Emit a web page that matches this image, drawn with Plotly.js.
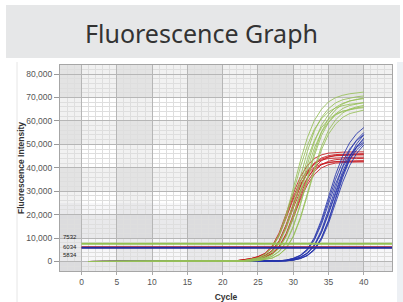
<!DOCTYPE html>
<html>
<head>
<meta charset="utf-8">
<script src="https://cdn.plot.ly/plotly-3.0.1.min.js"></script>
<style>
html,body{margin:0;padding:0;background:#fff;}
#chart{width:403px;height:302px;}
</style>
</head>
<body>
<div id="chart"></div>
<script>
// ---- Data ----
const cycles = [1,2,3,4,5,6,7,8,9,10,11,12,13,14,15,16,17,18,19,20,21,22,23,24,25,26,27,28,29,30,31,32,33,34,35,36,37,38,39,40];

// Green target curves
const green1 = [0,0,0,0,0,0,0,0,0,0,0,0,0,0,0,0,0,0,0, 70,110,220,430,860,1580,3170,6120,11590,20090,31180,42770,52780,60190,64940,68110,69910,70920,71570,72000,72290];
const green2 = [0,0,0,0,0,0,0,0,0,0,0,0,0,0,0,0,0,0,0, 50,85,140,320,640,1200,2260,4370,8320,15160,24820,36310,46880,55700,61480,65210,67680,69020,69800,70290,70640];
const green3 = [0,0,0,0,0,0,0,0,0,0,0,0,0,0,0,0,0,0,0,0, 70,100,210,420,830,1530,3060,5910,11190,19390,30090,41280,50940,58100,62690,65750,67490,68460,69080,69500];
const green4 = [0,0,0,0,0,0,0,0,0,0,0,0,0,0,0,0,0,0,0, 70,100,200,410,810,1490,2970,5740,10870,18830,29230,40100,49480,56430,60890,63860,65540,66490,67100,67500,67770];
const green5 = [0,0,0,0,0,0,0,0,0,0,0,0,0,0,0,0,0,0,0,0, 50,80,140,310,610,1160,2180,4220,8020,14620,23940,35020,45220,53720,59300,62900,65280,66570,67320,67800];
const green6 = [0,0,0,0,0,0,0,0,0,0,0,0,0,0,0,0,0,0,0,0, 70,100,200,400,790,1450,2900,5610,10630,18410,28580,39200,48380,55180,59530,62440,64090,65010,65600,66000];
const green7 = [0,0,0,0,0,0,0,0,0,0,0,0,0,0,0,0,0,0,0,0,0, 70,100,200,400,800,1470,2950,5700,10790,18690,29010,39800,49110,56010,60430,63380,65060,66000,66600];
const green8 = [0,0,0,0,0,0,0,0,0,0,0,0,0,0,0,0,0,0,0, 50,80,130,300,590,1110,2100,4060,7730,14080,23060,33730,43560,51750,57120,60590,62880,64130,64850,65300,65630];
const green9 = [0,0,0,0,0,0,0,0,0,0,0,0,0,0,0,0,0,0,0,0,0, 70,100,200,390,780,1430,2860,5530,10470,18140,28150,38610,47650,54340,58630,61490,63120,64030,64610];
const green10 = [0,0,0,0,0,0,0,0,0,0,0,0,0,0,0,0,0,0,0,0, 50,80,140,320,630,1190,2240,4340,8260,15050,24640,36050,46550,55300,61040,64750,67200,68530,69300,69790];

// Red target curves
const red1 = [0,0,0,0,0,0,0,0,0,0,0,0,0,0,0,0,0,0,0, 90,210,370,700,1260,2110,3510,6550,12170,20360,29020,36040,40950,43990,45490,46240,46520,46660,46730,46780,46800];
const red2 = [0,0,0,0,0,0,0,0,0,0,0,0,0,0,0,0,0,0,0, 50,140,270,500,910,1590,2500,4550,8650,15470,24120,31850,37770,41630,43680,44680,45140,45320,45410,45450,45500];
const red3 = [0,0,0,0,0,0,0,0,0,0,0,0,0,0,0,0,0,0,0,0, 90,200,350,660,1190,1980,3300,6160,11440,19140,27280,33880,38500,41360,42770,43470,43740,43870,43930,43980];
const red4 = [0,0,0,0,0,0,0,0,0,0,0,0,0,0,0,0,0,0,0, 40,130,260,470,860,1510,2370,4300,8170,14620,22790,30100,35690,39350,41280,42230,42660,42830,42910,42960,43000];
const red5 = [0,0,0,0,0,0,0,0,0,0,0,0,0,0,0,0,0,0,0, 90,200,360,670,1200,2000,3340,6230,11570,19360,27590,34270,38940,41830,43250,43970,44230,44370,44430,44480,44500];
const red6 = [0,0,0,0,0,0,0,0,0,0,0,0,0,0,0,0,0,0,0,0, 90,190,340,640,1150,1910,3190,5950,11050,18490,26350,32730,37190,39950,41310,41990,42250,42370,42440,42480];
const red7 = [0,0,0,0,0,0,0,0,0,0,0,0,0,0,0,0,0,0,0, 50,140,280,510,920,1610,2530,4600,8740,15640,24380,32200,38180,42090,44160,45170,45630,45820,45910,45950,46000];
const red8 = [0,0,0,0,0,0,0,0,0,0,0,0,0,0,0,0,0,0,0, 90,190,340,640,1160,1930,3210,5990,11130,18620,26540,32960,37450,40230,41600,42290,42540,42670,42740,42780,42800];
const red9 = [0,0,0,0,0,0,0,0,0,0,0,0,0,0,0,0,0,0,0,0, 90,210,370,690,1240,2060,3440,6410,11910,19920,28400,35270,40080,43050,44520,45250,45530,45660,45730,45780];

// Blue target curves
const blue1 = [0,0,0,0,0,0,0,0,0,0,0,0,0,0,0,0,0,0,0,0,0,0,0,0, 40,80,170,310,620,1340,2690,5320,10250,17810,27440,37070,44970,50680,54600,57120];
const blue2 = [0,0,0,0,0,0,0,0,0,0,0,0,0,0,0,0,0,0,0,0,0,0,0,0,0, 60,110,220,410,940,1870,3690,7210,13370,22110,31850,40590,47300,51920,55000];
const blue3 = [0,0,0,0,0,0,0,0,0,0,0,0,0,0,0,0,0,0,0,0,0,0,0,0,0, 40,80,160,300,590,1300,2590,5130,9880,17170,26460,35750,43360,48870,52650];
const blue4 = [0,0,0,0,0,0,0,0,0,0,0,0,0,0,0,0,0,0,0,0,0,0,0,0,0, 50,100,210,390,880,1770,3480,6810,12640,20900,30110,38380,44720,49090,52000];
const blue5 = [0,0,0,0,0,0,0,0,0,0,0,0,0,0,0,0,0,0,0,0,0,0,0,0, 40,80,160,290,580,1270,2540,5040,9700,16850,25970,35090,42560,47970,51680,54060];
const blue6 = [0,0,0,0,0,0,0,0,0,0,0,0,0,0,0,0,0,0,0,0,0,0,0,0,0, 40,80,150,280,560,1220,2450,4850,9330,16220,24990,33760,40950,46160,49730];
const blue7 = [0,0,0,0,0,0,0,0,0,0,0,0,0,0,0,0,0,0,0,0,0,0,0,0,0, 40,80,170,310,610,1330,2660,5270,10160,17650,27200,36740,44570,50230,54110];
const blue8 = [0,0,0,0,0,0,0,0,0,0,0,0,0,0,0,0,0,0,0,0,0,0,0,0,0, 50,100,200,380,860,1720,3380,6620,12270,20300,29240,37270,43430,47670,50500];
const blue9 = [0,0,0,0,0,0,0,0,0,0,0,0,0,0,0,0,0,0,0,0,0,0,0,0, 40,80,150,280,550,1200,2400,4750,9150,15900,24500,33100,40150,45250,48750,51000];

// Thresholds
const thresholdLabels = ["7532", "6034", "5834"];
const thresholdValues = [7532, 6034, 5834];
const thresholdSpan = [0, 44];

// Axis ticks
const yTickVals = [0,10000,20000,30000,40000,50000,60000,70000,80000];
const xTickVals = [0,5,10,15,20,25,30,35,40];

// ---- Build ----
const greens = [green1,green2,green3,green4,green5,green6,green7,green8,green9,green10];
const reds = [red1,red2,red3,red4,red5,red6,red7,red8,red9];
const blues = [blue1,blue2,blue3,blue4,blue5,blue6,blue7,blue8,blue9];

const COL_G = 'rgba(150,192,88,0.85)';
const COL_R = 'rgba(200,22,28,0.85)';
const COL_B = 'rgba(38,52,172,0.85)';
const TH_COLS = ['#93c150', '#d01c1c', '#1f2fa2'];

const traces = [];
reds.forEach(s => traces.push({x: cycles, y: s, type: 'scatter', mode: 'lines', line: {color: COL_R, width: 1}, hoverinfo: 'skip'}));
blues.forEach(s => traces.push({x: cycles, y: s, type: 'scatter', mode: 'lines', line: {color: COL_B, width: 1}, hoverinfo: 'skip'}));
greens.forEach(s => traces.push({x: cycles, y: s, type: 'scatter', mode: 'lines', line: {color: COL_G, width: 1}, hoverinfo: 'skip'}));
thresholdValues.forEach((v, i) => traces.push({x: thresholdSpan, y: [v, v], type: 'scatter', mode: 'lines', line: {color: TH_COLS[i], width: 2}, hoverinfo: 'skip'}));

const X0 = -3.05, X1 = 44.0, Y0 = -4050, Y1 = 83850;
const shapes = [];
// banner and panel (paper coords, outside plot)
const L = 60, R = 392, T = 65, B = 271;
const px = v => (v - L) / (R - L);
const py = v => (B - v) / (B - T);
shapes.push({type: 'rect', xref: 'paper', yref: 'paper', x0: px(6), x1: px(400), y0: py(58), y1: py(5), fillcolor: '#e6e7e8', line: {width: 0}, layer: 'below'});
shapes.push({type: 'line', xref: 'paper', yref: 'paper', x0: px(17), x1: px(17), y0: py(62), y1: py(302), line: {color: '#e6e6e6', width: 1}, layer: 'below'});
shapes.push({type: 'rect', xref: 'paper', yref: 'paper', x0: px(397), x1: px(403), y0: py(302), y1: py(62), fillcolor: '#edf0f4', line: {width: 0}, layer: 'below'});
// checkered background bands
[[X0, 0], [5, 10], [15, 20], [25, 30], [35, 40]].forEach(b => shapes.push({type: 'rect', xref: 'x', yref: 'y', x0: b[0], x1: b[1], y0: Y0, y1: Y1, fillcolor: 'rgba(0,0,0,0.055)', line: {width: 0}, layer: 'below'}));
[[70000, Y1], [50000, 60000], [30000, 40000], [10000, 20000], [Y0, 0]].forEach(b => shapes.push({type: 'rect', xref: 'x', yref: 'y', x0: X0, x1: X1, y0: b[0], y1: b[1], fillcolor: 'rgba(0,0,0,0.055)', line: {width: 0}, layer: 'below'}));
shapes.push({type: 'rect', xref: 'x', yref: 'y', x0: X0, x1: X1, y0: Y0, y1: 25000, fillcolor: 'rgba(90,105,140,0.05)', line: {width: 0}, layer: 'below'});

// threshold labels, stacked tightly at the left edge
const labelShift = [7, 0, -7];
const annotations = thresholdLabels.map((t, i) => ({
  x: -0.3, y: thresholdValues[i], xref: 'x', yref: 'y', text: t, showarrow: false,
  xanchor: 'right', yanchor: 'middle', yshift: labelShift[i],
  font: {family: 'Liberation Sans, Arial, sans-serif', size: 6, color: '#222'}
}));

const layout = {
  width: 403, height: 302,
  margin: {l: L, r: 403 - R, t: T, b: 302 - B, pad: 0},
  paper_bgcolor: '#ffffff', plot_bgcolor: '#ffffff',
  showlegend: false, hovermode: false,
  title: {text: 'Fluorescence Graph', font: {family: 'Noto Sans, Open Sans, sans-serif', size: 25, color: '#333333'}, x: 0.5, xref: 'container', xanchor: 'center', y: 0.885, yref: 'container', yanchor: 'middle'},
  xaxis: {
    range: [X0, X1], tickvals: xTickVals, ticks: 'outside', ticklen: 3, tickcolor: '#aaa',
    showgrid: true, gridcolor: '#b6b6b6', gridwidth: 1, zeroline: false,
    minor: {dtick: 1, tick0: 0, showgrid: true, gridcolor: '#dedede', gridwidth: 1},
    showline: true, mirror: true, linecolor: '#a6a6a6', linewidth: 1,
    tickfont: {family: 'Liberation Sans, Arial, sans-serif', size: 8.5, color: '#555'},
    title: {text: '<b>Cycle</b>', font: {family: 'Liberation Sans, Arial, sans-serif', size: 8.5, color: '#333'}, standoff: 7}
  },
  yaxis: {
    range: [Y0, Y1], tickvals: yTickVals, tickformat: ',d', ticks: 'outside', ticklen: 5, tickcolor: '#999',
    showgrid: true, gridcolor: '#b6b6b6', gridwidth: 1, zeroline: false,
    minor: {dtick: 2000, tick0: 0, showgrid: true, gridcolor: '#dedede', gridwidth: 1},
    showline: true, mirror: true, linecolor: '#a6a6a6', linewidth: 1,
    tickfont: {family: 'Liberation Sans, Arial, sans-serif', size: 8.5, color: '#555'},
    title: {text: '<b>Fluorescence Intensity</b>', font: {family: 'Liberation Sans, Arial, sans-serif', size: 8.5, color: '#333'}, standoff: 0}
  },
  shapes: shapes,
  annotations: annotations
};

Plotly.newPlot('chart', traces, layout, {displayModeBar: false, staticPlot: true});
</script>
</body>
</html>
